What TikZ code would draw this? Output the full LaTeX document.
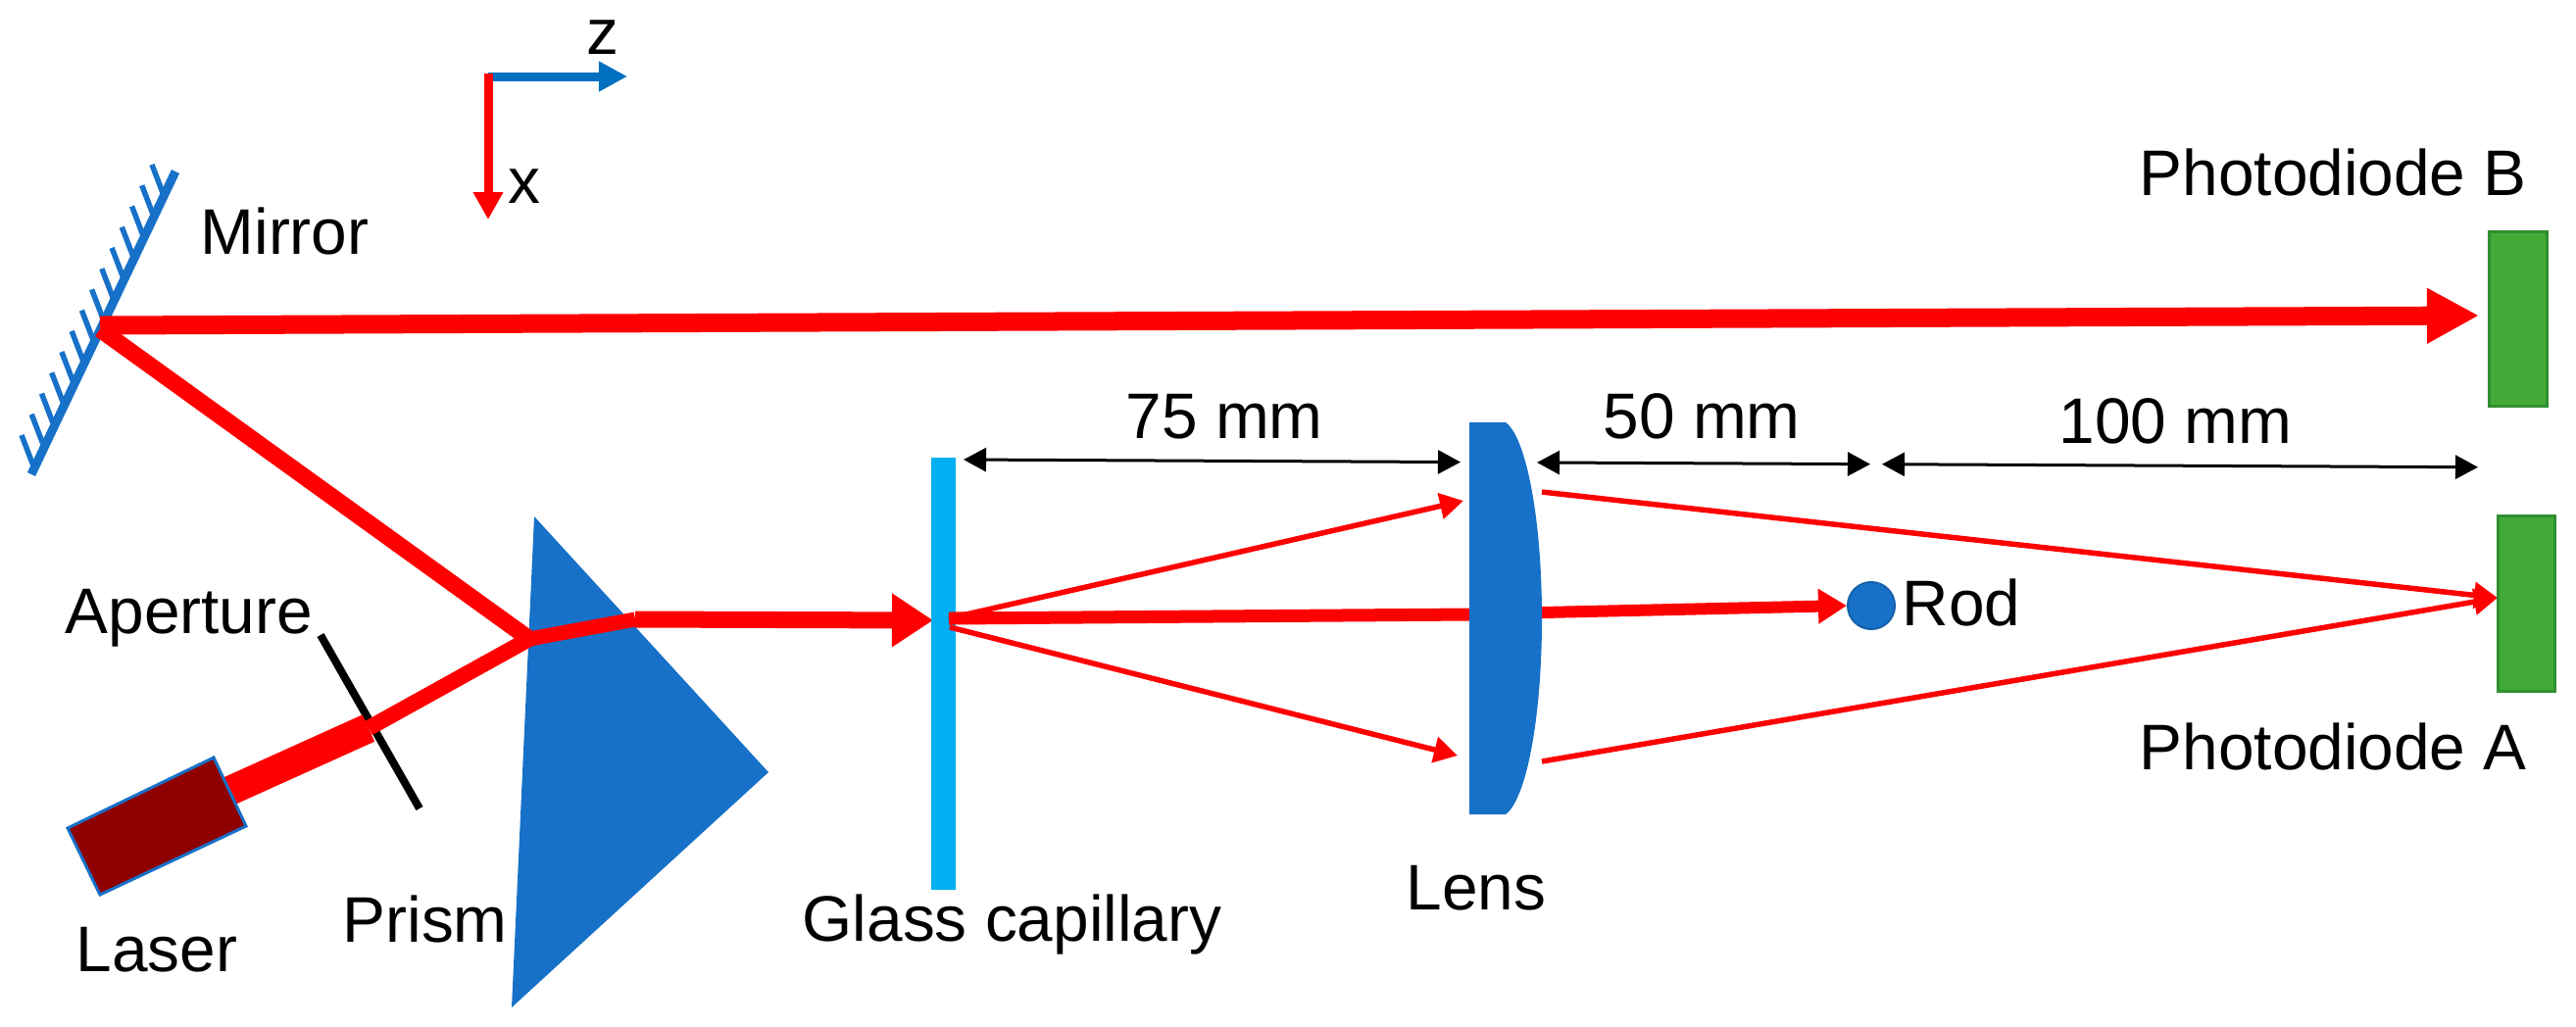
\documentclass[tikz,border=0pt]{standalone}
\usepackage{fontspec}
\setmainfont{Liberation Sans}
\usepackage{xcolor}
\usetikzlibrary{arrows.meta}
\definecolor{BeamRed}{HTML}{FF0000}
\definecolor{OpticBlue}{HTML}{1771C8}
\definecolor{AxisBlue}{HTML}{0070C0}
\definecolor{CapillaryCyan}{HTML}{00B0F0}
\definecolor{LaserRed}{HTML}{8F0000}
\definecolor{DiodeGreen}{HTML}{42AB38}
\definecolor{DiodeEdge}{HTML}{2F8F2F}
\tikzset{
    Label/.style={anchor=base west,inner sep=0pt,font=\fontsize{18.7}{22}\selectfont},
    Beam/.style={draw=BeamRed,line width=.17cm},
    Ray/.style={draw=BeamRed,line width=.055cm,-{Triangle[length=.24cm,width=.26cm]}},
    Span/.style={draw=black,line width=.03cm,{Triangle[length=.23cm,width=.24cm]}-{Triangle[length=.23cm,width=.24cm]}},
    Diode/.style={draw=DiodeEdge,fill=DiodeGreen,line width=.03cm},
}
\begin{document}
\begin{tikzpicture}[x=.01cm,y=-.01cm]
    \useasboundingbox (0,0) rectangle (2628,1047);
    \coordinate (MirrorHit) at (102,336);
    \coordinate (PrismIn) at (540,652);
    \coordinate (PrismOut) at (648,632);
    \coordinate (LaserOut) at (232,808);
    \coordinate (ApertureHit) at (376,743);
    \coordinate (CapillaryHit) at (968,631);
    \coordinate (CapillaryIn) at (952,633);
    \coordinate (LensIn) at (1499,627);
    \coordinate (LensOut) at (1573,625);
    \coordinate (LensTopIn) at (1493,511);
    \coordinate (LensLowIn) at (1487,771);
    \coordinate (LensTopOut) at (1573,502);
    \coordinate (LensLowOut) at (1573,777);
    \coordinate (DiodeFocus) at (2548,610);
    \coordinate (DiodeTip) at (2529,322);
    \coordinate (AxisO) at (498,78);

    \draw[AxisBlue,line width=.09cm,-{Triangle[length=.29cm,width=.29cm]}] (AxisO) -- (640,78);
    \draw[BeamRed,line width=.09cm,-{Triangle[length=.28cm,width=.29cm]}] (498,75) -- (498,224);
    \node[Label,anchor=base] (AxisZ) at (615,55) {z};
    \node[Label,anchor=base] (AxisX) at (535,207) {x};

    \draw[OpticBlue,line width=.09cm] (179,175) -- (32,484);
    \foreach \i in {0,...,13} {
     \draw[OpticBlue,line width=.055cm] ({155-\i*10.23},{168+\i*21.23}) -- ++(11.5,30);
    }
    \node[Label] (Mirror) at (204,259) {Mirror};

    \fill[OpticBlue] (545,527) -- (784,788) -- (522,1028) -- cycle;
    \node[Label] (Prism) at (349,961) {Prism};

    \draw[black,line width=.08cm] (327,648) -- (428,825);
    \node[Label] (Aperture) at (66,646) {Aperture};

    \draw[Beam] (MirrorHit) -- (PrismIn);
    \draw[Beam,line width=.3cm] (LaserOut) -- (ApertureHit);
    \draw[Beam,line width=.16cm] (ApertureHit) -- (PrismIn);
    \draw[Beam,line width=.15cm] (PrismIn) -- (PrismOut);
    \draw[Beam,-{Triangle[length=.42cm,width=.52cm]}] (PrismOut) -- (CapillaryIn);
    \draw[Beam,line width=.19cm,-{Triangle[length=.53cm,width=.53cm]}] (102,332) -- (DiodeTip);

    \draw[draw=OpticBlue,fill=LaserRed,line width=.03cm] (69,845) -- (218,773) -- (251,843) -- (102,913) -- cycle;
    \node[Label] (Laser) at (77,991) {Laser};

    \fill[CapillaryCyan] (950,467) rectangle (975,908);
    \node[Label] (Capillary) at (818,960) {Glass capillary};

    \draw[Beam,line width=.13cm] (CapillaryHit) -- (LensIn);
    \draw[Ray] (CapillaryHit) -- (LensTopIn);
    \draw[Ray] (969,640) -- (LensLowIn);
    \node[circle,fill=OpticBlue,draw=OpticBlue!85!black,line width=.02cm,minimum size=.48cm,inner sep=0pt] (Rod) at (1909,618) {};
    \draw[Beam,line width=.12cm,-{Triangle[length=.29cm,width=.34cm]}] (LensOut) -- (Rod.west);
    \node[Label] (RodText) at (1940,638) {Rod};

    \fill[OpticBlue] (1499,431) -- (1536,431) .. controls (1556,445) and (1573,525) .. (1573,631)
        .. controls (1573,737) and (1556,817) .. (1536,831) -- (1499,831) -- cycle;
    \node[Label] (Lens) at (1434,928) {Lens};

    \draw[Ray] (LensTopOut) -- (DiodeFocus);
    \draw[Ray] (LensLowOut) -- (DiodeFocus);

    \draw[Diode] (2539,236) rectangle (2598,414);
    \draw[Diode] (2548,526) rectangle (2606,705);
    \node[Label] (DiodeB) at (2182,199) {Photodiode B};
    \node[Label] (DiodeA) at (2182,785) {Photodiode A};

    \foreach \from/\to in {983/1490,1568/1908,1920/2528} {
     \draw[Span] (\from,{469+(\from-983)*.005}) -- (\to,{469+(\to-983)*.005});
    }
    \node[Label] (SpanA) at (1148,447) {75 mm};
    \node[Label] (SpanB) at (1635,447) {50 mm};
    \node[Label] (SpanC) at (2100,452) {100 mm};
\end{tikzpicture}
\end{document}
